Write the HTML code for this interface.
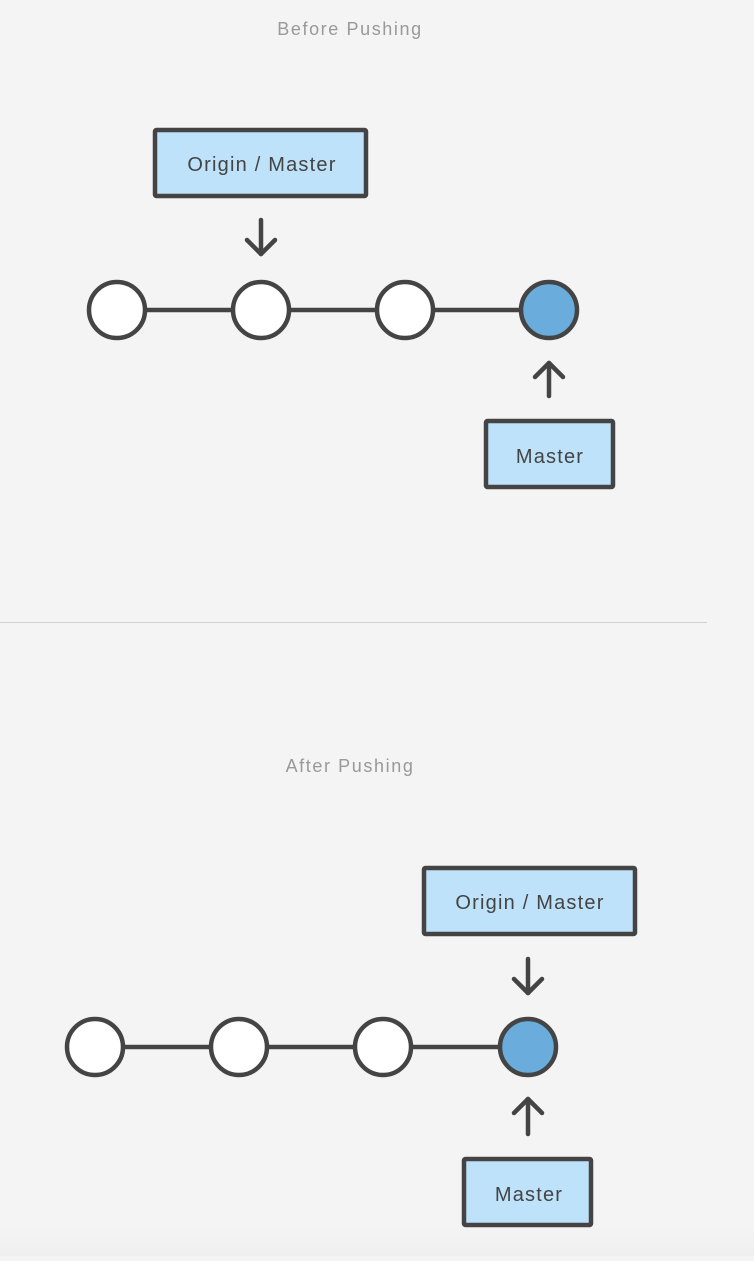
<!DOCTYPE html>
<html><head><meta charset="utf-8"><style>
html,body{margin:0;padding:0;background:#f4f4f4;}
body{width:754px;height:1256px;overflow:hidden;}
</style></head><body>
<svg width="754" height="1256" viewBox="0 0 754 1256" xmlns="http://www.w3.org/2000/svg" font-family="Liberation Sans, sans-serif">
<defs><linearGradient id="g" x1="0" y1="0" x2="0" y2="1"><stop offset="0" stop-color="#f4f4f4"/><stop offset="1" stop-color="#efefef"/></linearGradient></defs>
<rect width="754" height="1256" fill="#f4f4f4"/>
<rect x="0" y="1226" width="754" height="30" fill="url(#g)"/>
<text x="350" y="35" text-anchor="middle" font-size="18" fill="#999" letter-spacing="1.6">Before Pushing</text>
<g stroke="#444" stroke-width="4.5" fill="none" stroke-linecap="round" stroke-linejoin="round">
  <line x1="117" y1="310" x2="549" y2="310"/>
  <rect x="155" y="130" width="211" height="66" fill="#bde2fa" rx="1.5"/>
  <line x1="261" y1="220" x2="261" y2="254"/><polyline points="247,240 261,254 275,240"/>
  <line x1="549" y1="396" x2="549" y2="363"/><polyline points="535,377 549,363 563,377"/>
  <rect x="486" y="421" width="127" height="66" fill="#bde2fa" rx="1.5"/>
  <circle cx="117" cy="310" r="28" fill="#fff"/>
  <circle cx="261" cy="310" r="28" fill="#fff"/>
  <circle cx="405" cy="310" r="28" fill="#fff"/>
  <circle cx="549" cy="310" r="28" fill="#6aaddc"/>
</g>
<text x="262" y="171" text-anchor="middle" font-size="20" fill="#444" letter-spacing="1.2">Origin / Master</text>
<text x="550" y="463" text-anchor="middle" font-size="20" fill="#444" letter-spacing="1.2">Master</text>
<line x1="0" y1="622.5" x2="707" y2="622.5" stroke="#cfcfcf" stroke-width="1"/>
<text x="350" y="772" text-anchor="middle" font-size="18" fill="#999" letter-spacing="1.6">After Pushing</text>
<g stroke="#444" stroke-width="4.5" fill="none" stroke-linecap="round" stroke-linejoin="round">
  <line x1="95" y1="1047" x2="528" y2="1047"/>
  <rect x="424" y="868" width="211" height="66" fill="#bde2fa" rx="1.5"/>
  <line x1="528" y1="959" x2="528" y2="993"/><polyline points="514,979 528,993 542,979"/>
  <line x1="528" y1="1134" x2="528" y2="1099"/><polyline points="514,1113 528,1099 542,1113"/>
  <rect x="464" y="1159" width="127" height="66" fill="#bde2fa" rx="1.5"/>
  <circle cx="95" cy="1047" r="28" fill="#fff"/>
  <circle cx="239" cy="1047" r="28" fill="#fff"/>
  <circle cx="383" cy="1047" r="28" fill="#fff"/>
  <circle cx="528" cy="1047" r="28" fill="#6aaddc"/>
</g>
<text x="530" y="909" text-anchor="middle" font-size="20" fill="#444" letter-spacing="1.2">Origin / Master</text>
<text x="529" y="1201" text-anchor="middle" font-size="20" fill="#444" letter-spacing="1.2">Master</text>
</svg>
</body></html>
